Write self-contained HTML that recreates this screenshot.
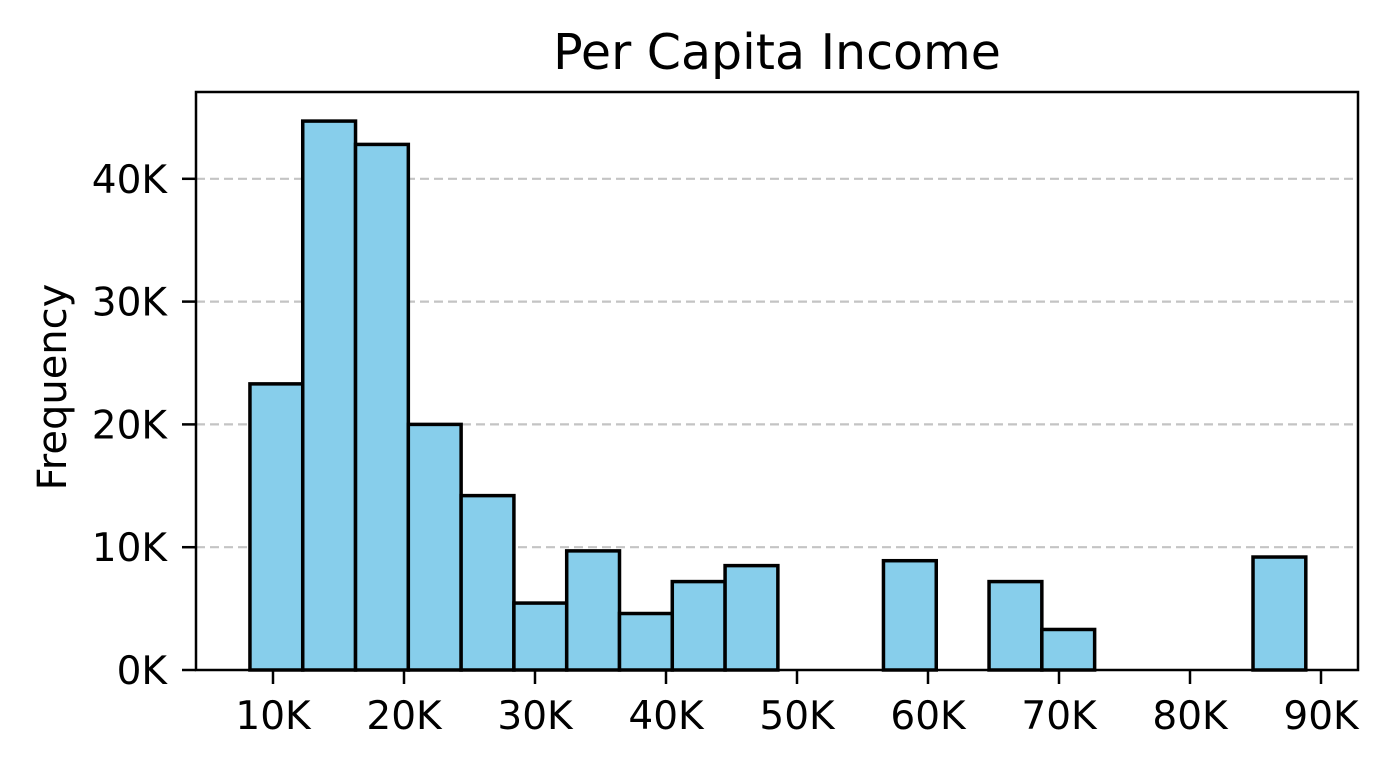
<!DOCTYPE html>
<html><head><meta charset="utf-8"><style>
html,body{margin:0;padding:0;background:#fff;}
svg{display:block;font-family:"DejaVu Sans","Liberation Sans",sans-serif;}
</style></head><body>
<svg id="chart" width="1393" height="769">
<text x="777" y="69" font-size="49" text-anchor="middle">Per Capita Income</text>
<text transform="translate(66,387) rotate(-90)" font-size="40" text-anchor="middle">Frequency</text>
<g id="grid"></g><g id="bars"></g><g id="axes"></g>
</svg>
<script>
const binStart = 8.24;
const binWidth = 4.03;
const counts = [23.3, 44.7, 42.8, 20.0, 14.2, 5.45, 9.7, 4.6, 7.2, 8.5, 0, 0, 8.9, 0, 7.2, 3.3, 0, 0, 0, 9.2];
const xTicks = [10, 20, 30, 40, 50, 60, 70, 80, 90];
const yTicks = [0, 10, 20, 30, 40];
const NS = "http://www.w3.org/2000/svg";
const L = 196, R = 1358, T = 92, B = 670;
const xs = v => 273 + (v - 10) * 13.1;
const ys = v => B - v * 12.28;
function mk(tag, attrs, parent){const e=document.createElementNS(NS,tag);for(const k in attrs)e.setAttribute(k,attrs[k]);parent.appendChild(e);return e;}
const grid=document.getElementById('grid'),bars=document.getElementById('bars'),axes=document.getElementById('axes');
yTicks.forEach(v=>{
  if(v>0){const g=mk('line',{x1:L,x2:R,y1:ys(v),y2:ys(v),stroke:'#c4c4c4','stroke-width':2.2,'stroke-dasharray':'9,5'},grid);
  
  }
  const t=mk('line',{x1:L-14,x2:L,y1:ys(v),y2:ys(v),stroke:'#000','stroke-width':2.5},axes);
  
  
  const tx=mk('text',{x:L-29,y:ys(v)+14,'font-size':39,'text-anchor':'end'},axes);tx.textContent=v+'K';
  
  
});
counts.forEach((c,i)=>{
  const x0=xs(binStart+i*binWidth),x1=xs(binStart+(i+1)*binWidth);
  const r=mk('rect',{x:x0,y:ys(c),width:x1-x0,height:B-ys(c),fill:'#87ceeb',stroke:'#000','stroke-width':3.5},bars);
  
  
});
xTicks.forEach(v=>{
  const t=mk('line',{x1:xs(v),x2:xs(v),y1:B,y2:B+14,stroke:'#000','stroke-width':2.5},axes);
  
  
  const tx=mk('text',{x:xs(v),y:B+59,'font-size':39,'text-anchor':'middle'},axes);tx.textContent=v+'K';
  
  
});
const f=mk('rect',{x:L,y:T,width:R-L,height:B-T,fill:'none',stroke:'#000','stroke-width':2.5},axes);


</script>
</body></html>
